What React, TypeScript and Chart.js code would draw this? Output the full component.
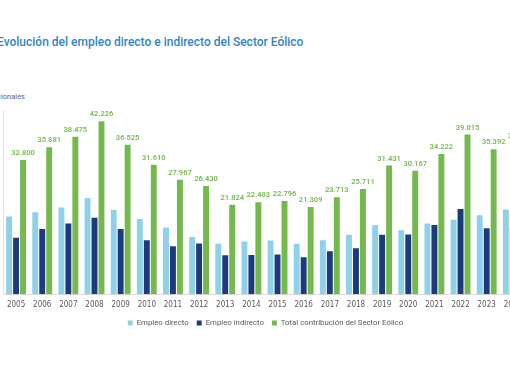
import React, { useEffect, useRef } from "react";
import { Chart, registerables } from "chart.js";

Chart.register(...registerables);

const years = [
  "2005", "2006", "2007", "2008", "2009", "2010", "2011", "2012", "2013", "2014",
  "2015", "2016", "2017", "2018", "2019", "2020", "2021", "2022", "2023", "2024",
];
const empleoDirecto = [
  19000, 20000, 21200, 23500, 20600, 18400, 16300, 14000, 12300, 12900,
  13100, 12300, 13200, 14500, 16900, 15600, 17300, 18200, 19300, 20700,
];
const empleoIndirecto = [
  13800, 15900, 17300, 18700, 15900, 13200, 11700, 12400, 9500, 9600,
  9700, 9000, 10500, 11200, 14500, 14600, 16900, 20800, 16100, 16300,
];
const totalContribucion = [
  32800, 35881, 38475, 42226, 36525, 31610, 27967, 26430, 21824, 22483,
  22796, 21309, 23713, 25711, 31431, 30167, 34222, 39015, 35392, 37000,
];
const seriesNames = ["Empleo directo", "Empleo indirecto", "Total contribución del Sector Eólico"];

const LIGHT = "#8dd1eb";
const DARK = "#1d3b7a";
const GREEN = "#74b94c";

function fmt(v: number): string {
  const s = String(Math.round(v));
  return s.replace(/\B(?=(\d{3})+(?!\d))/g, ".");
}

const valueLabels = {
  id: "valueLabels",
  afterDatasetsDraw(chart: any) {
    const meta = chart.getDatasetMeta(2);
    const ctx = chart.ctx;
    ctx.save();
    ctx.font = "600 7.5px Roboto";
    ctx.fillStyle = GREEN;
    ctx.textAlign = "center";
    ctx.textBaseline = "bottom";
    meta.data.forEach((bar: any, i: number) => {
      ctx.fillText(fmt(totalContribucion[i]), bar.x, bar.y - 3);
    });
    ctx.restore();
  },
};

export default function App() {
  const ref = useRef<HTMLCanvasElement | null>(null);

  useEffect(() => {
    if (!ref.current) return;
    const chart = new Chart(ref.current, {
      type: "bar",
      data: {
        labels: years,
        datasets: [
          { label: seriesNames[0], data: empleoDirecto, backgroundColor: LIGHT, borderWidth: 0 },
          { label: seriesNames[1], data: empleoIndirecto, backgroundColor: DARK, borderWidth: 0 },
          { label: seriesNames[2], data: totalContribucion, backgroundColor: GREEN, borderWidth: 0 },
        ],
      },
      options: {
        responsive: false,
        maintainAspectRatio: false,
        animation: false,
        devicePixelRatio: 1,
        layout: { padding: { left: 13, right: 0, top: 110, bottom: 3 } },
        datasets: { bar: { categoryPercentage: 0.8, barPercentage: 0.85 } },
        scales: {
          x: {
            grid: { display: false, drawTicks: false },
            border: { display: true, color: "#d9d9d9", width: 1 },
            afterFit: (scale: any) => {
              scale.height = 17;
            },
            ticks: {
              padding: 6,
              color: "#595959",
              font: { family: "'Liberation Sans Narrow', 'DejaVu Sans Condensed', Roboto, sans-serif", size: 8 },
              maxRotation: 0,
              autoSkip: false,
            },
          },
          y: {
            min: 0,
            max: 45000,
            grid: { display: false, drawTicks: false },
            border: { display: true, color: "#e3e3e3", width: 1 },
            ticks: { display: false },
          },
        },
        plugins: {
          legend: {
            position: "bottom",
            labels: {
              boxWidth: 5,
              boxHeight: 5,
              padding: 8,
              color: "#595959",
              font: { family: "Roboto, sans-serif", size: 7.8 },
            },
          },
          tooltip: { enabled: false },
          title: { display: false },
        },
      },
      plugins: [valueLabels],
    });
    return () => chart.destroy();
  }, []);

  return (
    <div
      style={{
        position: "fixed",
        left: 0,
        top: 0,
        width: 510,
        height: 382,
        overflow: "hidden",
        background: "#ffffff",
      }}
    >
      <div
        style={{
          position: "absolute",
          left: -3,
          top: 34,
          whiteSpace: "nowrap",
          fontFamily: "Roboto, sans-serif",
          fontWeight: 500,
          fontSize: 12,
          lineHeight: "16px",
          color: "#2e86c9",
        }}
      >
        Evolución del empleo directo e indirecto del Sector Eólico
      </div>
      <div
        style={{
          position: "absolute",
          right: 485,
          top: 92,
          whiteSpace: "nowrap",
          fontFamily: "Roboto, sans-serif",
          fontSize: 7.5,
          lineHeight: "10px",
          color: "#666666",
        }}
      >
        Empleos nacionales
      </div>
      <canvas
        ref={ref}
        width={538}
        height={340}
        style={{ position: "absolute", left: -10, top: 0, width: 538, height: 340 }}
      />
    </div>
  );
}
